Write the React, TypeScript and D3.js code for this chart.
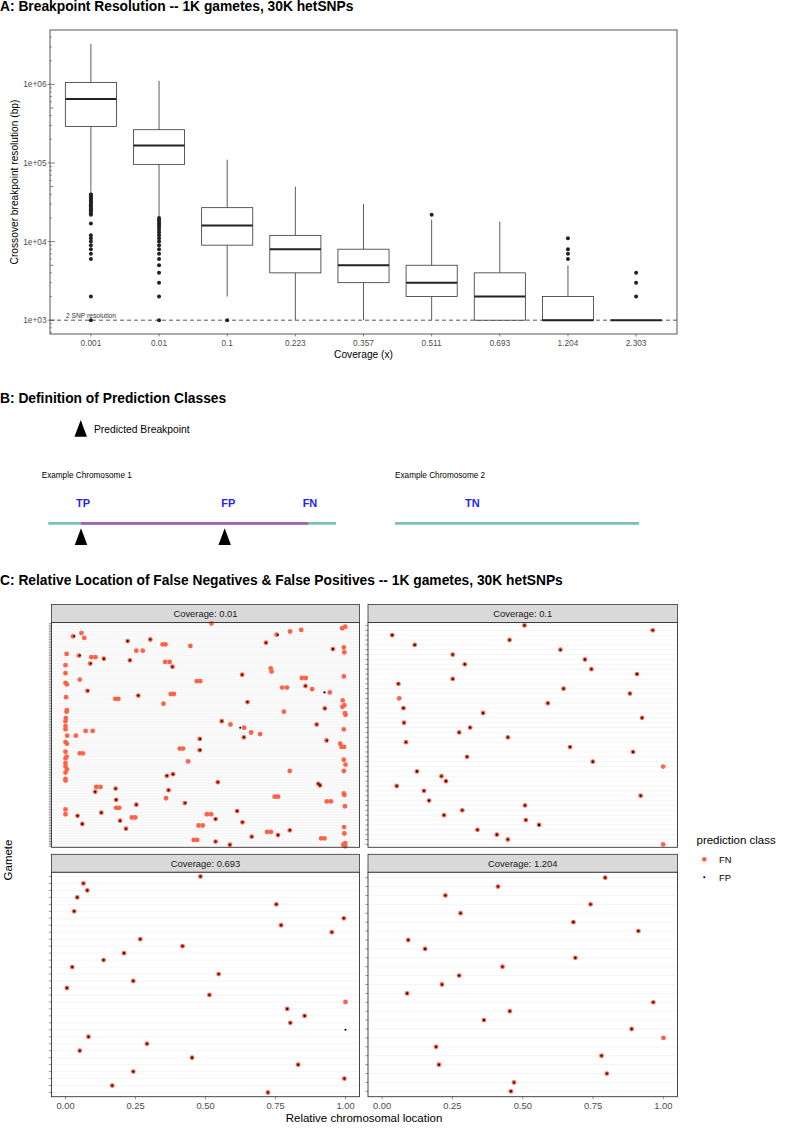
import React from "react";
import * as d3 from "d3";

const FONT = "'Liberation Sans', Arial, Helvetica, sans-serif";

// ---------------- Panel A data ----------------
const coverageLevels = ["0.001", "0.01", "0.1", "0.223", "0.357", "0.511", "0.693", "1.204", "2.303"];
const whiskerHigh = [3280000, 1110000, 110000, 50000, 30000, 19000, 18000, 5000, 1000];
const upperQuartile = [1060000, 265000, 27000, 12000, 8000, 5000, 4000, 2000, 1000];
const medianRes = [650000, 167000, 16000, 8000, 5000, 3000, 2000, 1000, 1000];
const lowerQuartile = [292000, 96000, 9000, 4000, 3000, 2000, 1000, 1000, 1000];
const whiskerLow = [43000, 21000, 2000, 1000, 1000, 1000, 1000, 1000, 1000];
const outlierRes: number[][] = [
  [40000, 39000, 38000, 37000, 36000, 35000, 34000, 33000, 32000, 31000, 30000, 29000, 28000, 27000, 26000, 25000, 24000, 23000, 22000, 17000, 12000, 11000, 10000, 9000, 8000, 7000, 6000, 2000, 1000],
  [20000, 19000, 18000, 17000, 16000, 15000, 14000, 13000, 12000, 11000, 10000, 9000, 8000, 7000, 6000, 5000, 4000, 3000, 2000, 1000],
  [1000],
  [],
  [],
  [22000],
  [],
  [11000, 8000, 7000, 6000],
  [4000, 3000, 2000],
];
const yMajorTicks = [1e3, 1e4, 1e5, 1e6];
const yMajorLabels = ["1e+03", "1e+04", "1e+05", "1e+06"];
const snpResolution = 1000;

// ---------------- Panel B data ----------------
const chromNames = ["Example Chromosome 1", "Example Chromosome 2"];
const chromNameX = [-1.12, 58.7];
const chromStart = [0, 58.7];
const chromEnd = [48.7, 100];
const crossoverSpan = [5.54, 44.0];
const predictedBreakpoints = [5.54, 29.86];
const classLabels = ["TP", "FP", "FN", "TN"];
const classLabelX = [5.87, 30.47, 44.3, 71.8];
const legendTriangleX = 5.49;

// ---------------- Panel C data ----------------
const facetLabels = ["Coverage: 0.01", "Coverage: 0.1", "Coverage: 0.693", "Coverage: 1.204"];
const facetGametes = [140, 46, 32, 25];

const fnCov001: [number, number][] = [
  [0, 0.521], [2, 0.999], [3, 0.988], [4, 0.842], [5, 0.802], [6, 0.057], [7, 0.754], [8, 0.027], [9, 0.067],
  [10, 0.303], [11, 0.222], [12, 0.716], [13, 0.347], [13, 0.357], [14, 0.446], [15, 0.994], [16, 0.955],
  [17, 0.253], [17, 0.276], [18, 0.996], [19, 0.004], [20, 0.048], [21, 0.092], [21, 0.107], [22, 0.137],
  [23, 0.23], [24, 0.356], [24, 0.372], [25, 0.088], [26, 0.0], [27, 0.382], [28, 0.733], [30, 0.736],
  [31, 0.0], [32, 0.631], [33, 0.994], [34, 0.844], [34, 0.858], [35, 0.051], [36, 0.469], [36, 0.481],
  [37, 0.0], [38, 0.005], [39, 0.857], [40, 0.774], [40, 0.791], [41, 0.881], [42, 0.078], [43, 0.944],
  [44, 0.376], [44, 0.387], [45, 0.26], [46, 0.002], [47, 0.178], [47, 0.189], [48, 0.99], [49, 0.65],
  [50, 0.35], [51, 0.996], [52, 0.989], [53, 0.926], [54, 0.005], [55, 0.004], [55, 0.78], [56, 0.998],
  [57, 1.0], [59, 0.001], [61, 0.558], [61, 0.0], [63, 0.589], [63, 0.897], [64, 0.0], [65, 0.638],
  [66, 0.994], [66, 0.0], [67, 0.072], [67, 0.097], [68, 0.663], [69, 0.695], [70, 0.006], [70, 0.037],
  [71, 0.637], [72, 0.479], [73, 0.932], [74, 0.0], [75, 0.005], [75, 0.981], [77, 0.986], [77, 0.995],
  [78, 0.408], [78, 0.42], [79, 0.479], [80, 0.0], [81, 0.051], [81, 0.062], [83, 0.004], [84, 0.0],
  [85, 0.994], [86, 0.438], [87, 0.0], [88, 1.0], [89, 0.0], [91, 0.005], [92, 0.801], [92, 0.994],
  [93, 0.0], [94, 0.384], [95, 0.362], [97, 0.0], [98, 0.0], [99, 0.544], [100, 0.903], [101, 0.909],
  [102, 0.11], [102, 0.125], [103, 0.179], [104, 0.368], [105, 0.106], [106, 0.994], [107, 0.996],
  [108, 0.747], [108, 0.759], [109, 0.359], [110, 0.181], [111, 0.933], [111, 0.948], [112, 0.426],
  [113, 0.253], [114, 0.998], [115, 0.181], [115, 0.192], [116, 0.0], [117, 0.613], [118, 0.128],
  [119, 0.0], [119, 0.505], [119, 0.52], [120, 0.043], [121, 0.237], [121, 0.249], [122, 0.536],
  [123, 0.195], [124, 0.632], [125, 0.06], [126, 0.475], [126, 0.49], [127, 0.995], [128, 0.216],
  [129, 0.801], [130, 0.72], [130, 0.734], [131, 0.996], [132, 0.759], [133, 0.665], [134, 0.913],
  [134, 0.925], [135, 0.458], [135, 0.47], [136, 0.536], [137, 0.999], [138, 0.587], [138, 0.992], [139, 0.999],
];
const fpCov001: [number, number][] = [
  [7, 0.758], [8, 0.031], [10, 0.303], [11, 0.222], [12, 0.716], [16, 0.955], [20, 0.051], [22, 0.137],
  [23, 0.23], [25, 0.09], [27, 0.382], [32, 0.631], [39, 0.857], [42, 0.08], [43, 0.925], [45, 0.26],
  [49, 0.65], [53, 0.926], [61, 0.558], [63, 0.897], [65, 0.624], [71, 0.637], [72, 0.481], [73, 0.934],
  [79, 0.481], [94, 0.384], [95, 0.362], [99, 0.544], [100, 0.903], [101, 0.909], [103, 0.179],
  [104, 0.368], [105, 0.106], [110, 0.181], [112, 0.428], [113, 0.253], [117, 0.613], [118, 0.128],
  [120, 0.043], [122, 0.536], [123, 0.195], [124, 0.632], [125, 0.06], [128, 0.216], [129, 0.801],
  [132, 0.759], [133, 0.665], [136, 0.536], [138, 0.587],
];

const fnCov01: [number, number][] = [
  [0, 0.506], [1, 0.962], [2, 0.036], [3, 0.453], [4, 0.116], [5, 0.634], [6, 0.251], [7, 0.721],
  [8, 0.294], [9, 0.744], [10, 0.906], [11, 0.251], [12, 0.058], [13, 0.645], [14, 0.881], [15, 0.061],
  [16, 0.589], [17, 0.076], [18, 0.359], [19, 0.924], [20, 0.078], [21, 0.313], [22, 0.274], [23, 0.447],
  [24, 0.085], [25, 0.668], [26, 0.892], [27, 0.302], [28, 0.749], [29, 0.999], [30, 0.124], [31, 0.211],
  [32, 0.227], [33, 0.052], [34, 0.149], [35, 0.919], [36, 0.167], [37, 0.508], [38, 0.285], [39, 0.22],
  [40, 0.511], [41, 0.558], [42, 0.339], [43, 0.408], [44, 0.447], [45, 0.999],
];
const fpCov01: [number, number][] = [
  [0, 0.506], [1, 0.962], [2, 0.036], [3, 0.453], [4, 0.116], [5, 0.634], [6, 0.251], [7, 0.721],
  [8, 0.294], [9, 0.744], [10, 0.906], [11, 0.251], [12, 0.058], [13, 0.645], [14, 0.881],
  [16, 0.589], [17, 0.076], [18, 0.359], [19, 0.924], [20, 0.078], [21, 0.313], [22, 0.274], [23, 0.447],
  [24, 0.085], [25, 0.668], [26, 0.892], [27, 0.302], [28, 0.749], [30, 0.124], [31, 0.211],
  [32, 0.227], [33, 0.052], [34, 0.149], [35, 0.919], [36, 0.167], [37, 0.508], [38, 0.285], [39, 0.22],
  [40, 0.511], [41, 0.558], [42, 0.339], [43, 0.408], [44, 0.447],
];

const fnCov0693: [number, number][] = [
  [0, 0.482], [1, 0.064], [2, 0.078], [3, 0.042], [4, 0.753], [5, 0.031], [6, 0.994], [7, 0.77],
  [8, 0.951], [9, 0.267], [10, 0.418], [11, 0.209], [12, 0.136], [13, 0.024], [14, 0.547], [15, 0.242],
  [16, 0.005], [17, 0.514], [18, 1.0], [19, 0.792], [20, 0.854], [21, 0.803], [23, 0.082],
  [24, 0.291], [25, 0.051], [26, 0.452], [27, 0.831], [28, 0.242], [29, 0.996], [30, 0.167], [31, 0.723],
];
const fpCov0693: [number, number][] = [
  [0, 0.482], [1, 0.064], [2, 0.078], [3, 0.042], [4, 0.753], [5, 0.031], [6, 0.994], [7, 0.77],
  [8, 0.951], [9, 0.267], [10, 0.418], [11, 0.209], [12, 0.136], [13, 0.024], [14, 0.547], [15, 0.242],
  [16, 0.005], [17, 0.514], [19, 0.792], [20, 0.854], [21, 0.803], [22, 1.0], [23, 0.082],
  [24, 0.291], [25, 0.051], [26, 0.452], [27, 0.831], [28, 0.242], [29, 0.996], [30, 0.167], [31, 0.723],
];

const fnCov1204: [number, number][] = [
  [0, 0.793], [1, 0.412], [2, 0.225], [3, 0.741], [4, 0.279], [5, 0.68], [6, 0.911], [7, 0.093],
  [8, 0.153], [9, 0.687], [10, 0.428], [11, 0.274], [12, 0.213], [13, 0.089], [14, 0.964], [15, 0.454],
  [16, 0.362], [17, 0.887], [18, 1.0], [19, 0.192], [20, 0.78], [21, 0.202], [22, 0.799], [23, 0.469], [24, 0.458],
];
const fpCov1204: [number, number][] = [
  [0, 0.793], [1, 0.412], [2, 0.225], [3, 0.741], [4, 0.279], [5, 0.68], [6, 0.911], [7, 0.093],
  [8, 0.153], [9, 0.687], [10, 0.428], [11, 0.274], [12, 0.213], [13, 0.089], [14, 0.964], [15, 0.454],
  [16, 0.362], [17, 0.887], [19, 0.192], [20, 0.78], [21, 0.202], [22, 0.799], [23, 0.469], [24, 0.458],
];

const facetFN = [fnCov001, fnCov01, fnCov0693, fnCov1204];
const facetFP = [fpCov001, fpCov01, fpCov0693, fpCov1204];
const xBreaksC = [0, 0.25, 0.5, 0.75, 1];
const xBreakLabelsC = ["0.00", "0.25", "0.50", "0.75", "1.00"];
const classNames = ["FN", "FP"];

const FN_COLOR = "#FF6347";

function PanelA() {
  const L = 50, R = 677, T = 30, B = 334;
  const all = [...whiskerHigh, ...whiskerLow, ...outlierRes.flat()];
  const lo = Math.log10(d3.min(all) as number);
  const hi = Math.log10(d3.max(all) as number);
  const pad = (hi - lo) * 0.05;
  const y = d3.scaleLog().domain([10 ** (lo - pad), 10 ** (hi + pad)]).range([B, T]);
  const x = d3.scalePoint<string>().domain(coverageLevels).range([L, R]).padding(0.6);
  const bw = x.step() * 0.75;
  const [d0, d1] = y.domain();
  const logTicks: { v: number; k: number }[] = [];
  for (let e = 2; e <= 7; e++) {
    for (let k = 1; k <= 9; k++) {
      const v = k * 10 ** e;
      if (v >= d0 && v <= d1) logTicks.push({ v, k });
    }
  }
  const stroke = "#333";
  return (
    <g>
      <text x={0} y={11} fontSize={13.8} fontWeight="bold" fontFamily={FONT}>
        A: Breakpoint Resolution -- 1K gametes, 30K hetSNPs
      </text>
      <rect x={L} y={T} width={R - L} height={B - T} fill="white" />
      {/* dashed 2-SNP line */}
      <line x1={L} x2={R} y1={y(snpResolution)} y2={y(snpResolution)} stroke="#444" strokeWidth={0.9} strokeDasharray="4 3" />
      <text x={66} y={y(snpResolution) - 2.5} fontSize={6.7} fontFamily={FONT} fill="#333">2 SNP resolution</text>
      {coverageLevels.map((c, i) => {
        const cx = x(c) as number;
        return (
          <g key={c}>
            <line x1={cx} x2={cx} y1={y(whiskerHigh[i])} y2={y(upperQuartile[i])} stroke={stroke} strokeWidth={0.8} />
            <line x1={cx} x2={cx} y1={y(lowerQuartile[i])} y2={y(whiskerLow[i])} stroke={stroke} strokeWidth={0.8} />
            <rect x={cx - bw / 2} y={y(upperQuartile[i])} width={bw} height={y(lowerQuartile[i]) - y(upperQuartile[i])} fill="white" stroke={stroke} strokeWidth={0.8} />
            <line x1={cx - bw / 2} x2={cx + bw / 2} y1={y(medianRes[i])} y2={y(medianRes[i])} stroke="#222" strokeWidth={2} />
            {outlierRes[i].map((v, j) => (
              <circle key={j} cx={cx} cy={y(v)} r={2} fill="#222" />
            ))}
          </g>
        );
      })}
      {/* log ticks inside panel */}
      {logTicks.map((t, i) => {
        const len = t.k === 1 ? 5 : t.k === 5 ? 3.4 : 1.8;
        return <line key={i} x1={L} x2={L + len} y1={y(t.v)} y2={y(t.v)} stroke="#333" strokeWidth={0.6} />;
      })}
      <rect x={L} y={T} width={R - L} height={B - T} fill="none" stroke="#444" strokeWidth={0.9} />
      {/* y axis */}
      {yMajorTicks.map((v, i) => (
        <g key={v}>
          <line x1={L - 2.5} x2={L} y1={y(v)} y2={y(v)} stroke="#333" strokeWidth={0.6} />
          <text x={L - 3.5} y={y(v) + 3} textAnchor="end" fontSize={8.3} fill="#4d4d4d" fontFamily={FONT}>{yMajorLabels[i]}</text>
        </g>
      ))}
      {coverageLevels.map((c) => (
        <g key={c}>
          <line x1={x(c)} x2={x(c)} y1={B} y2={B + 2.5} stroke="#333" strokeWidth={0.6} />
          <text x={x(c)} y={B + 11.5} textAnchor="middle" fontSize={8.3} fill="#4d4d4d" fontFamily={FONT}>{c}</text>
        </g>
      ))}
      <text x={(L + R) / 2} y={357.5} textAnchor="middle" fontSize={10.2} fontFamily={FONT}>Coverage (x)</text>
      <text transform={`translate(17.5,${(T + B) / 2}) rotate(-90)`} textAnchor="middle" fontSize={10.2} fontFamily={FONT}>
        Crossover breakpoint resolution (bp)
      </text>
    </g>
  );
}

function Triangle({ cx, top, h, w }: { cx: number; top: number; h: number; w: number }) {
  const p = d3.path();
  p.moveTo(cx, top);
  p.lineTo(cx + w / 2, top + h);
  p.lineTo(cx - w / 2, top + h);
  p.closePath();
  return <path d={p.toString()} fill="black" />;
}

function PanelB() {
  const xB = d3.scaleLinear().domain([0, 100]).range([48.3, 639]);
  const lineY = 523.3;
  return (
    <g>
      <text x={0} y={403.3} fontSize={13.8} fontWeight="bold" fontFamily={FONT}>B: Definition of Prediction Classes</text>
      <Triangle cx={xB(legendTriangleX)} top={420} h={16.7} w={12.5} />
      <text x={94} y={433} fontSize={10.3} fontFamily={FONT}>Predicted Breakpoint</text>
      {chromNames.map((n, i) => (
        <text key={n} x={xB(chromNameX[i])} y={478} fontSize={8.2} fontFamily={FONT}>{n}</text>
      ))}
      {classLabels.map((l, i) => (
        <text key={l} x={xB(classLabelX[i])} y={507} textAnchor="middle" fontSize={11} fontWeight="bold" fill="#1f1ff5" fontFamily={FONT}>{l}</text>
      ))}
      {chromStart.map((s, i) => (
        <line key={i} x1={xB(s)} x2={xB(chromEnd[i])} y1={lineY} y2={lineY} stroke="#78C3B5" strokeWidth={2.8} />
      ))}
      <line x1={xB(crossoverSpan[0])} x2={xB(crossoverSpan[1])} y1={lineY} y2={lineY} stroke="#A163B2" strokeWidth={2.8} />
      {predictedBreakpoints.map((b, i) => (
        <Triangle key={i} cx={xB(b)} top={528.3} h={16.7} w={12.5} />
      ))}
    </g>
  );
}

function Facet({ idx, left, right, stripTop, panelTop, panelBottom, showX }: any) {
  const x = d3.scaleLinear().domain([-0.05, 1.05]).range([left, right]);
  const rows = d3.range(facetGametes[idx]);
  const y = d3.scalePoint<number>().domain(rows).range([panelTop, panelBottom]).padding(0.6);
  return (
    <g>
      <rect x={left} y={stripTop} width={right - left} height={panelTop - stripTop} fill="#d9d9d9" stroke="#333" strokeWidth={0.8} />
      <text x={(left + right) / 2} y={(stripTop + panelTop) / 2 + 3.3} textAnchor="middle" fontSize={9.4} fill="#1a1a1a" fontFamily={FONT}>
        {facetLabels[idx]}
      </text>
      <rect x={left} y={panelTop} width={right - left} height={panelBottom - panelTop} fill="white" />
      {rows.map((r) => (
        <line key={r} x1={left} x2={right} y1={y(r)} y2={y(r)} stroke="#ebebeb" strokeWidth={0.5} />
      ))}
      {facetFN[idx].map((d: [number, number], i: number) => (
        <circle key={"n" + i} cx={x(d[1])} cy={y(d[0])} r={2.4} fill={FN_COLOR} />
      ))}
      {facetFP[idx].map((d: [number, number], i: number) => (
        <circle key={"p" + i} cx={x(d[1])} cy={y(d[0])} r={1.05} fill="black" />
      ))}
      <rect x={left} y={panelTop} width={right - left} height={panelBottom - panelTop} fill="none" stroke="#333" strokeWidth={0.9} />
      {rows.map((r) => (
        <line key={"t" + r} x1={left - 2.7} x2={left} y1={y(r)} y2={y(r)} stroke="#333" strokeWidth={0.5} />
      ))}
      {showX &&
        xBreaksC.map((b, i) => (
          <g key={b}>
            <line x1={x(b)} x2={x(b)} y1={panelBottom} y2={panelBottom + 2.7} stroke="#333" strokeWidth={0.5} />
            <text x={x(b)} y={panelBottom + 12.5} textAnchor="middle" fontSize={9.4} fill="#4d4d4d" fontFamily={FONT}>{xBreakLabelsC[i]}</text>
          </g>
        ))}
    </g>
  );
}

function PanelC() {
  const cols = [[51.5, 359.5], [368, 677.5]];
  const rowsY = [[604.5, 622.5, 847.3], [854.3, 872.3, 1096.7]];
  return (
    <g>
      <text x={0} y={585} fontSize={13.8} fontWeight="bold" fontFamily={FONT}>
        C: Relative Location of False Negatives &amp; False Positives -- 1K gametes, 30K hetSNPs
      </text>
      {[0, 1, 2, 3].map((i) => {
        const c = cols[i % 2];
        const r = rowsY[Math.floor(i / 2)];
        return (
          <Facet key={i} idx={i} left={c[0]} right={c[1]} stripTop={r[0]} panelTop={r[1]} panelBottom={r[2]} showX={i >= 2} />
        );
      })}
      <text x={364} y={1122} textAnchor="middle" fontSize={11.5} fontFamily={FONT}>Relative chromosomal location</text>
      <text transform="translate(12,860) rotate(-90)" textAnchor="middle" fontSize={11.5} fontFamily={FONT}>Gamete</text>
      {/* legend */}
      <text x={696.5} y={843.5} fontSize={11.5} fontFamily={FONT}>prediction class</text>
      {classNames.map((n, i) => (
        <g key={n}>
          <circle cx={704.3} cy={859.3 + i * 18} r={n === "FN" ? 2.4 : 1.05} fill={n === "FN" ? FN_COLOR : "black"} />
          <text x={719} y={862.6 + i * 18} fontSize={9.4} fontFamily={FONT}>{n}</text>
        </g>
      ))}
    </g>
  );
}

export default function App() {
  return (
    <svg
      width={787}
      height={1131}
      viewBox="0 0 787 1131"
      style={{ position: "absolute", left: 0, top: 0, background: "white" }}
    >
      <rect x={0} y={0} width={787} height={1131} fill="white" />
      <PanelA />
      <PanelB />
      <PanelC />
    </svg>
  );
}
